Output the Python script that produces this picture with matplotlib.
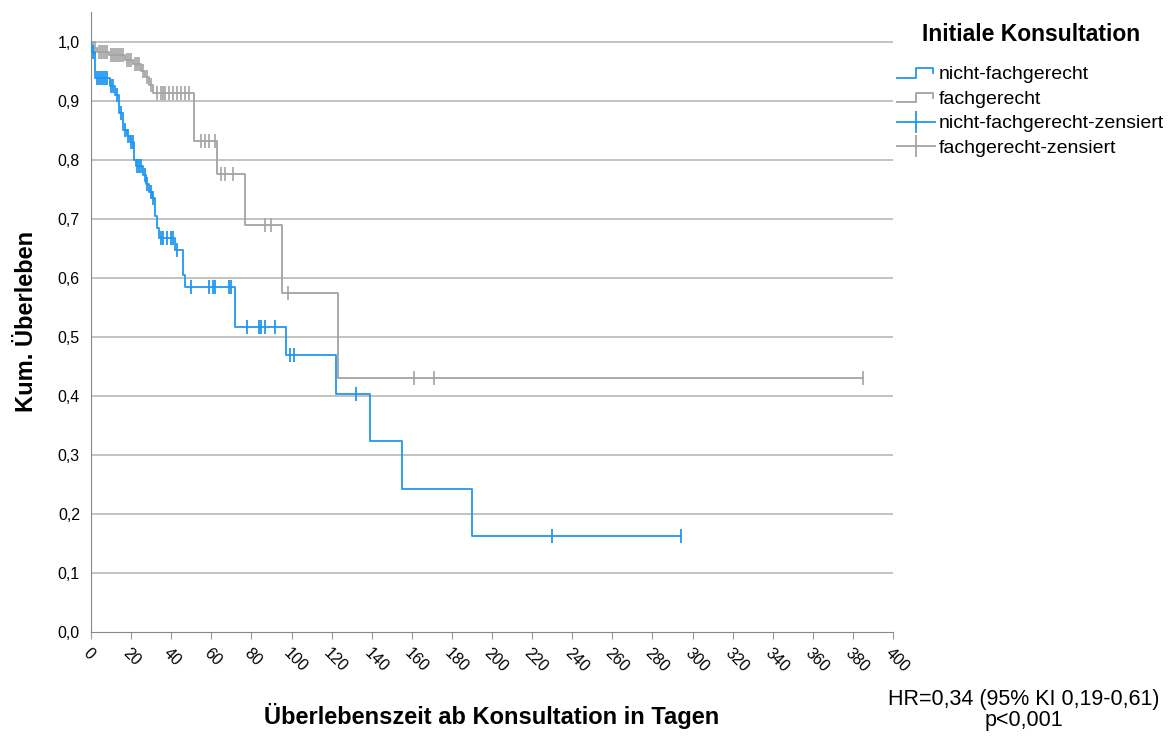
import numpy as np
import matplotlib
matplotlib.use('Agg')
import matplotlib.pyplot as plt
from matplotlib.lines import Line2D
from matplotlib.legend_handler import HandlerBase

plt.rcParams['font.family'] = ['Liberation Sans', 'DejaVu Sans']

# nicht-fachgerecht: Ereigniszeiten (Tage) und Überleben danach
blau_t = [0, 2, 9.5, 12, 14, 16, 18, 19.5, 21.5, 22.5, 26, 27.5, 29, 30.5, 32, 33, 34,
          42, 46, 47, 72, 97, 122, 139, 155, 190]
blau_s = [0.983, 0.939, 0.925, 0.91, 0.88, 0.85, 0.84, 0.83, 0.80, 0.79, 0.775, 0.76,
          0.745, 0.735, 0.705, 0.685, 0.668, 0.648, 0.605, 0.585, 0.517, 0.47, 0.404,
          0.323, 0.242, 0.162]
blau_zens = [1, 3, 4, 5, 6, 7, 8, 10, 11, 13, 15, 17, 18.5, 20, 21, 23, 24, 25, 27, 28,
             30, 31, 35, 36, 38, 40, 41, 43, 50, 59, 61, 62, 69, 70, 78, 84, 85, 87, 92,
             99, 101, 132, 230, 294]

# fachgerecht
grau_t = [0.5, 3, 9, 17, 21, 25, 27, 29, 31, 51.5, 63, 77, 95, 123]
grau_s = [0.99, 0.983, 0.978, 0.97, 0.962, 0.95, 0.94, 0.927, 0.913, 0.832, 0.776,
          0.69, 0.575, 0.431]
grau_zens = [1, 2, 4, 5, 6, 7, 8, 10, 11, 12, 13, 14, 15, 16, 18, 19, 20, 22, 23, 24, 26,
             28, 30, 33, 35, 36, 37, 39, 41, 43, 45, 47, 49, 55, 57, 59, 62, 65, 67, 71,
             87, 90, 98, 161, 171, 385]

blau = '#2196f0'
grau = '#a3a3a3'


def kurve(t, s, zens):
    t = np.array([0.0] + list(t))
    s = np.array([1.0] + list(s))
    ende = max(max(zens), t[-1])
    tt = np.append(t, ende)
    ss = np.append(s, s[-1])
    zens = np.array(zens, dtype=float)
    idx = np.searchsorted(t, zens, side='right') - 1
    return tt, ss, zens, s[idx]


class StufenHandler(HandlerBase):
    def create_artists(self, legend, orig, xd, yd, w, h, fontsize, trans):
        x0, y0 = -xd, -yd
        x = [x0, x0 + w * 0.5, x0 + w * 0.5, x0 + w * 0.95, x0 + w * 0.95]
        y = [y0 + h * 0.1, y0 + h * 0.1, y0 + h * 0.8, y0 + h * 0.8, y0 + h * 0.45]
        ln = Line2D(x, y, color=orig.get_color(), lw=1.3, transform=trans)
        return [ln]


fig = plt.figure(figsize=(11.7, 7.4), dpi=100)
ax = fig.add_axes([0.0778, 0.146, 0.6855, 0.838])

for yv in np.arange(0.1, 1.01, 0.1):
    ax.axhline(yv, color='#bdbdbd', lw=1.3, zorder=0)

bt, bs, bz, bzs = kurve(blau_t, blau_s, blau_zens)
gt, gs, gz, gzs = kurve(grau_t, grau_s, grau_zens)

ax.step(gt, gs, where='post', color=grau, lw=1.3, zorder=2)
ax.plot(gz, gzs, ls='none', marker='|', ms=10, mew=1.2, color=grau, zorder=2)
ax.step(bt, bs, where='post', color=blau, lw=1.3, zorder=3)
ax.plot(bz, bzs, ls='none', marker='|', ms=10, mew=1.3, color=blau, zorder=3)

ax.set_xlim(0, 400)
ax.set_ylim(0, 1.051)
ax.set_xticks(np.arange(0, 401, 20))
ax.set_xticklabels([str(v) for v in range(0, 401, 20)], rotation=-45,
                   ha='left', va='top', rotation_mode='anchor', fontsize=11.5)
yt = np.round(np.arange(0, 1.01, 0.1), 1)
ax.set_yticks(yt)
ax.set_yticklabels([f'{v:.1f}'.replace('.', ',') for v in yt], fontsize=11.5)
ax.tick_params(axis='y', length=0, pad=8)
ax.tick_params(axis='x', length=5, color='#999999', pad=5)
for sp in ['top', 'right']:
    ax.spines[sp].set_visible(False)
ax.spines['left'].set_color('#888888')
ax.spines['bottom'].set_color('#888888')

ax.set_xlabel('Überlebenszeit ab Konsultation in Tagen', fontsize=17,
              fontweight='bold', labelpad=20)
ax.set_ylabel('Kum. Überleben', fontsize=17, fontweight='bold', labelpad=14)

fig.text(0.881, 0.953, 'Initiale Konsultation', ha='center', va='center',
         fontsize=16.5, fontweight='bold')

h1 = Line2D([], [], color=blau, lw=1.3)
h2 = Line2D([], [], color=grau, lw=1.3)
h3 = Line2D([], [], color=blau, lw=1.3, marker='|', ms=16, mew=1.3)
h4 = Line2D([], [], color=grau, lw=1.3, marker='|', ms=16, mew=1.3)
leg = fig.legend([h1, h2, h3, h4],
                 ['nicht-fachgerecht', 'fachgerecht', 'nicht-fachgerecht-zensiert',
                  'fachgerecht-zensiert'],
                 loc='upper left', bbox_to_anchor=(0.760, 0.922), frameon=False,
                 fontsize=14, handlelength=1.95, handletextpad=0.2,
                 labelspacing=0.36, borderaxespad=0.0,
                 handler_map={h1: StufenHandler(), h2: StufenHandler()})

fig.text(0.875, 0.0405, 'HR=0,34 (95% KI 0,19-0,61)\np<0,001', ha='center',
         va='center', fontsize=15.5, linespacing=0.95)

fig.savefig('out.png', dpi=100)
